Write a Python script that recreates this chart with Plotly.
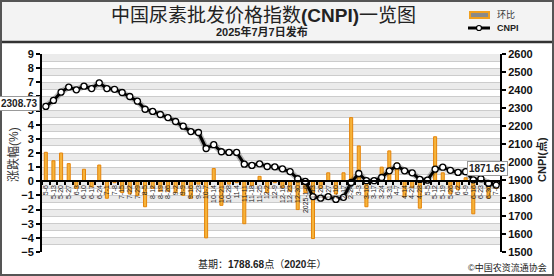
import plotly.graph_objects as go

# ---------------- data ----------------
dates = ["5-6","5-13","5-20","5-27","6-3","6-10","6-17","6-24","7-1","7-8",
         "7-15","7-22","7-29","8-5","8-12","8-19","8-26","9-2","9-9","9-16",
         "9-23","10-7","10-14","10-21","10-28","11-4","11-11","11-18","11-25","12-2",
         "12-9","12-16","12-23","12-30","2025-1-6","1-13","1-20","1-27","2-10","2-17",
         "2-24","3-3","3-10","3-17","3-24","3-31","4-7","4-14","4-21","4-28",
         "5-5","5-12","5-19","5-26","6-2","6-9","6-16","6-23","6-30","7-7"]

cnpi = [2308.73, 2342, 2388, 2416, 2401, 2421, 2408, 2440, 2408, 2404,
        2386, 2364, 2338, 2293, 2281, 2264, 2247, 2225, 2199, 2169,
        2164, 2075, 2096, 2057, 2053, 2053, 1988, 1981, 1990, 1975,
        1973, 1962, 1947, 1907, 1892, 1808, 1799, 1808, 1792, 1804,
        1886, 1936, 1896, 1896, 1914, 1951, 1979, 1951, 1940, 1903,
        1899, 1960, 1971, 1954, 1942, 1946, 1901, 1907, 1881, 1871.65]

huanbi = [2.05, 1.45, 2.0, 1.25, -0.5, 0.85, -0.4, 1.15, -1.2, -0.1,
          -0.8, -0.9, -1.0, -1.8, -0.5, -0.7, -0.7, -0.8, -1.0, -1.2,
          -0.2, -4.0, 0.9, -1.7, -0.2, -0.1, -3.0, -0.3, 0.35, -0.8,
          -0.1, -0.45, -0.7, -2.0, -0.8, -4.05, -0.5, 0.6, -0.9, 0.6,
          4.5, 2.5, -1.8, -0.05, 1.0, 2.15, 1.3, -1.1, -0.45, -1.9,
          -0.1, 3.15, 0.6, -0.9, -0.6, 0.25, -2.3, 0.25, -1.2, -0.5]

left_ticks = list(range(-5, 10))
right_ticks = list(range(1500, 2700, 100))

title_text = "中国尿素批发价格指数<b>(CNPI)</b>一览图"
subtitle_text = "<b>2025年7月7日发布</b>"
base_text = "基期：<b>1788.68</b>点（<b>2020</b>年）"
copyright_text = "©中国农资流通协会"

# ---------------- layout helpers ----------------
W, H = 554, 276
L, R, T, B = 42, 500, 54, 252
def px(xp):
    return (xp - L) / (R - L)
def py(yp):
    return (B - yp) / (B - T)

FONT = "Liberation Sans, Arial, Noto Sans CJK SC, sans-serif"

fig = go.Figure()

fig.add_trace(go.Bar(
    x=dates, y=huanbi, name="环比", yaxis="y",
    width=0.4,
    marker=dict(color="#f5b33a", line=dict(color="#e5840a", width=1)),
    showlegend=False,
))

fig.add_trace(go.Scatter(
    x=dates, y=cnpi, name="CNPI", yaxis="y2", mode="lines",
    line=dict(color="rgba(0,0,0,0.25)", width=6),
    hoverinfo="skip", showlegend=False,
))
fig.add_trace(go.Scatter(
    x=dates, y=cnpi, name="CNPI", yaxis="y2", mode="lines+markers",
    line=dict(color="black", width=3),
    marker=dict(symbol="circle", size=6, color="white",
                line=dict(color="black", width=1.3)),
    showlegend=False,
))

shapes = []
# header background + separator line
shapes.append(dict(type="rect", xref="paper", yref="paper",
                   x0=px(0), x1=px(W), y0=py(42), y1=py(0),
                   fillcolor="#f3f3f3", line=dict(width=0), layer="below"))
shapes.append(dict(type="line", xref="paper", yref="paper",
                   x0=px(0), x1=px(W), y0=py(42), y1=py(42),
                   line=dict(color="#333333", width=2.5)))
# outer border
shapes.append(dict(type="rect", xref="paper", yref="paper",
                   x0=px(1), x1=px(W - 1), y0=py(H - 1), y1=py(1),
                   line=dict(color="#555555", width=2), fillcolor="rgba(0,0,0,0)"))
# striped bands
for k in left_ticks[:-1]:
    shapes.append(dict(type="rect", xref="paper", yref="y",
                       x0=0, x1=1, y0=k + 0.5, y1=k + 1,
                       fillcolor="#ebebeb", line=dict(width=0), layer="below"))
# manual legend
shapes.append(dict(type="rect", xref="paper", yref="paper",
                   x0=px(470), x1=px(489), y0=py(18), y1=py(12),
                   fillcolor="#8a8a8a", line=dict(color="#f0a020", width=2)))
shapes.append(dict(type="line", xref="paper", yref="paper",
                   x0=px(468), x1=px(490), y0=py(28), y1=py(28),
                   line=dict(color="black", width=3)))
shapes.append(dict(type="circle", xref="paper", yref="paper",
                   x0=px(476.5), x1=px(481.5), y0=py(30.5), y1=py(25.5),
                   fillcolor="white", line=dict(color="black", width=1.2)))

annotations = [
    dict(text=title_text, xref="paper", yref="paper", x=px(263), y=py(15.5),
         showarrow=False, font=dict(size=19, color="#222222", family=FONT),
         xanchor="center", yanchor="middle"),
    dict(text=subtitle_text, xref="paper", yref="paper", x=px(262), y=py(31.5),
         showarrow=False, font=dict(size=11, color="#222222", family=FONT),
         xanchor="center", yanchor="middle"),
    dict(text="环比", xref="paper", yref="paper", x=px(495), y=py(15),
         showarrow=False, font=dict(size=9, color="#333333", family=FONT),
         xanchor="left", yanchor="middle"),
    dict(text="<b>CNPI</b>", xref="paper", yref="paper", x=px(495), y=py(28),
         showarrow=False, font=dict(size=9, color="#222222", family=FONT),
         xanchor="left", yanchor="middle"),
    dict(text="涨跌幅(%)", xref="paper", yref="paper", x=px(13), y=py(155),
         showarrow=False, textangle=-90, font=dict(size=12, color="#333333", family=FONT),
         xanchor="center", yanchor="middle"),
    dict(text="<b>CNPI(点)</b>", xref="paper", yref="paper", x=px(541), y=py(160),
         showarrow=False, textangle=-90, font=dict(size=11, color="#222222", family=FONT),
         xanchor="center", yanchor="middle"),
    dict(text=base_text, xref="paper", yref="paper", x=px(262), y=py(264),
         showarrow=False, font=dict(size=10, color="#222222", family=FONT),
         xanchor="center", yanchor="middle"),
    dict(text=copyright_text, xref="paper", yref="paper", x=px(549), y=py(267),
         showarrow=False, font=dict(size=9, color="#222222", family=FONT),
         xanchor="right", yanchor="middle"),
    dict(text="<b>%.2f</b>" % cnpi[0], x=dates[0], y=cnpi[0], xref="x", yref="y2",
         showarrow=False, xshift=-26, yshift=3,
         font=dict(size=10, color="#222222", family=FONT),
         bgcolor="white", bordercolor="#999999", borderwidth=1, borderpad=1),
    dict(text="<b>%.2f</b>" % cnpi[-1], x=dates[-1], y=cnpi[-1], xref="x", yref="y2",
         showarrow=False, xshift=-9, yshift=17,
         font=dict(size=10, color="#222222", family=FONT),
         bgcolor="white", bordercolor="#999999", borderwidth=1, borderpad=1),
]

fig.update_layout(
    width=W, height=H,
    margin=dict(l=L, r=W - R, t=T, b=H - B, pad=0),
    paper_bgcolor="white", plot_bgcolor="white",
    font=dict(family=FONT, color="#222222"),
    showlegend=False,
    bargap=0.5,
    shapes=shapes, annotations=annotations,
    xaxis=dict(
        type="category", range=[-0.5, len(dates) - 0.5],
        tickmode="array", tickvals=dates, ticktext=dates,
        tickangle=-90, tickfont=dict(size=7, color="#222222", family=FONT),
        anchor="free", position=5 / 14,
        showline=True, linecolor="black", linewidth=2,
        ticks="outside", ticklen=3, tickwidth=1.5, tickcolor="black",
        tickson="boundaries", showgrid=False, zeroline=False,
    ),
    yaxis=dict(
        range=[-5, 9], tickvals=left_ticks,
        showline=True, linecolor="black", linewidth=2,
        ticks="outside", ticklen=4, tickwidth=2, tickcolor="black",
        tickfont=dict(size=11, color="#111111", family=FONT, weight="bold"),
        showgrid=True, gridcolor="#cccccc", gridwidth=1,
        minor=dict(dtick=0.5, showgrid=True, gridcolor="#cccccc", gridwidth=1, ticklen=0),
        zeroline=False,
    ),
    yaxis2=dict(
        range=[1500, 2600], tickvals=right_ticks,
        overlaying="y", side="right", anchor="x",
        showline=True, linecolor="black", linewidth=2,
        ticks="outside", ticklen=4, tickwidth=2, tickcolor="black",
        tickfont=dict(size=11, color="#111111", family=FONT, weight="bold"),
        showgrid=False, zeroline=False,
    ),
)

fig.write_html("out.html")
